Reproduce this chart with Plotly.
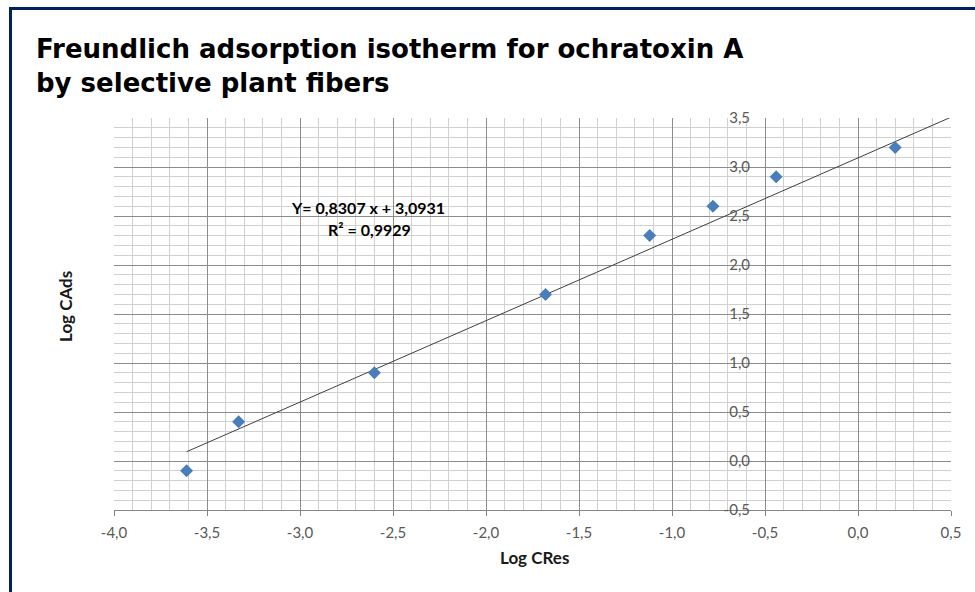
import plotly.graph_objects as go

# Freundlich isotherm data (log-transformed concentrations)
log_cres = [-3.61, -3.33, -2.60, -1.68, -1.12, -0.78, -0.44, 0.20]
log_cads = [-0.10, 0.40, 0.90, 1.70, 2.30, 2.60, 2.90, 3.20]

# Linear fit reported on the chart
slope = 0.8307
intercept = 3.0931
r_squared = 0.9929
fit_x = [min(log_cres), 0.5]
fit_y = [slope * x + intercept for x in fit_x]

x_ticks = [-4.0, -3.5, -3.0, -2.5, -2.0, -1.5, -1.0, -0.5, 0.0, 0.5]
x_tick_labels = ["-4,0", "-3,5", "-3,0", "-2,5", "-2,0", "-1,5", "-1,0", "-0,5", "0,0", "0,5"]
y_ticks = [-0.5, 0.0, 0.5, 1.0, 1.5, 2.0, 2.5, 3.0, 3.5]
y_tick_labels = ["-0,5", "0,0", "0,5", "1,0", "1,5", "2,0", "2,5", "3,0", "3,5"]

W, H = 975, 592
ML, MR, MT, MB = 114, 24, 118, 82
PW, PH = W - ML - MR, H - MT - MB


def px_x(p):
    return (p - ML) / PW


def px_y(p):
    return (H - MB - p) / PH


sans = "Lato, 'Open Sans', sans-serif"
tick_font = dict(family=sans, size=15, color="#595959")
label_font = dict(family=sans, size=17, color="#1a1a1a")
eq_font = dict(family=sans, size=16, color="black")

fig = go.Figure()

fig.add_trace(go.Scatter(
    x=fit_x, y=fit_y, mode="lines",
    line=dict(color="#404040", width=1),
    hoverinfo="skip", showlegend=False, cliponaxis=True,
))

fig.add_trace(go.Scatter(
    x=log_cres, y=log_cads, mode="markers",
    marker=dict(symbol="diamond", size=10, color="#4a7ebb", line=dict(width=0)),
    showlegend=False,
))

fig.update_layout(
    width=W, height=H,
    margin=dict(l=ML, r=MR, t=MT, b=MB),
    paper_bgcolor="white", plot_bgcolor="white",
    showlegend=False,
    xaxis=dict(
        range=[-4.0, 0.5], tickvals=x_ticks, ticktext=x_tick_labels,
        showgrid=True, gridcolor="#8c8c8c", gridwidth=1,
        minor=dict(dtick=0.1, tick0=-4.0, showgrid=True, gridcolor="#d0d0d0", gridwidth=1),
        showline=True, linecolor="#868686", linewidth=1,
        ticks="outside", ticklen=5, tickcolor="#868686",
        ticklabelstandoff=4,
        zeroline=False, tickfont=tick_font,
    ),
    yaxis=dict(
        range=[-0.5, 3.5], tickvals=y_ticks, ticktext=y_tick_labels,
        anchor="free", position=px_x(750),
        showgrid=True, gridcolor="#8c8c8c", gridwidth=1,
        minor=dict(dtick=0.1, tick0=-0.5, showgrid=True, gridcolor="#d0d0d0", gridwidth=1),
        showline=False, ticks="", zeroline=False, tickfont=tick_font,
    ),
    title=dict(
        text="Freundlich adsorption isotherm for ochratoxin A<br>by selective plant fibers",
        font=dict(family="'DejaVu Sans', Verdana, sans-serif", size=26, color="black", weight="bold"),
        x=36 / W, xanchor="left", xref="container",
        y=1 - 58 / H, yanchor="top", yref="container",
    ),
    annotations=[
        dict(
            text="<b>Log CRes</b>",
            x=px_x(534), y=px_y(557), xref="paper", yref="paper",
            xanchor="center", yanchor="middle",
            showarrow=False, font=label_font,
        ),
        dict(
            text="<b>Log CAds</b>", textangle=-90,
            x=px_x(65), y=px_y(307), xref="paper", yref="paper",
            xanchor="center", yanchor="middle",
            showarrow=False, font=label_font,
        ),
        dict(
            text=f"<b>Y= {slope:.4f} x + {intercept:.4f}</b>".replace(".", ","),
            x=px_x(368), y=px_y(207), xref="paper", yref="paper",
            xanchor="center", yanchor="middle",
            showarrow=False, font=eq_font,
        ),
        dict(
            text=f"<b>R² = {r_squared:.4f}</b>".replace(".", ","),
            x=px_x(369), y=px_y(229), xref="paper", yref="paper",
            xanchor="center", yanchor="middle",
            showarrow=False, font=eq_font,
        ),
    ],
    shapes=[
        dict(
            type="rect", xref="paper", yref="paper",
            x0=px_x(10.5), x1=px_x(990), y0=px_y(610), y1=px_y(8.5),
            line=dict(color="#002060", width=3), fillcolor="rgba(0,0,0,0)",
            layer="above",
        ),
    ],
)

fig.write_html("out.html")
